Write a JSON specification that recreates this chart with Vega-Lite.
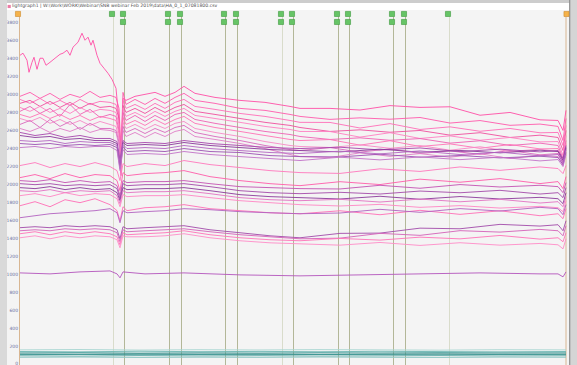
{
"$schema":"https://vega.github.io/schema/vega-lite/v6.json",
"width":577,"height":365,"padding":0,"autosize":{"type":"none"},
"background":"#f4f4f4",
"config":{"view":{"fill":"#f4f4f4","stroke":null}},
"datasets":{
"C":[{"x":0.5,"k":"o"},{"x":94.5,"k":"l"},{"x":105.5,"k":"d"},{"x":150.5,"k":"d"},{"x":162.5,"k":"d"},{"x":206.5,"k":"d"},{"x":218.5,"k":"d"},{"x":263.5,"k":"l"},{"x":274.5,"k":"d"},{"x":319.5,"k":"d"},{"x":330.5,"k":"d"},{"x":374.5,"k":"d"},{"x":386.5,"k":"d"},{"x":430.5,"k":"l"},{"x":547,"k":"o"}],
"M":[{"x":94.5,"r":1},{"x":105.5,"r":1},{"x":150.5,"r":1},{"x":162.5,"r":1},{"x":206.5,"r":1},{"x":218.5,"r":1},{"x":263.5,"r":1},{"x":274.5,"r":1},{"x":319.5,"r":1},{"x":330.5,"r":1},{"x":374.5,"r":1},{"x":386.5,"r":1},{"x":430.5,"r":1},
{"x":105.5,"r":2},{"x":150.5,"r":2},{"x":162.5,"r":2},{"x":206.5,"r":2},{"x":218.5,"r":2},{"x":263.5,"r":2},{"x":274.5,"r":2},{"x":319.5,"r":2},{"x":330.5,"r":2},{"x":374.5,"r":2},{"x":386.5,"r":2},
{"x":-1,"r":0},{"x":547.5,"r":0}],
"L":[
{"s":"a0","x":1,"y":3440},{"s":"a0","x":4,"y":3463},{"s":"a0","x":8,"y":3385},{"s":"a0","x":10,"y":3251},{"s":"a0","x":13,"y":3362},{"s":"a0","x":15,"y":3418},{"s":"a0","x":18,"y":3284},{"s":"a0","x":21,"y":3407},{"s":"a0","x":24,"y":3407},{"s":"a0","x":27,"y":3329},{"s":"a0","x":31,"y":3362},{"s":"a0","x":36,"y":3407},{"s":"a0","x":41,"y":3451},{"s":"a0","x":44,"y":3463},{"s":"a0","x":48,"y":3496},{"s":"a0","x":51,"y":3440},{"s":"a0","x":54,"y":3530},{"s":"a0","x":59,"y":3585},{"s":"a0","x":63,"y":3685},{"s":"a0","x":66,"y":3607},{"s":"a0","x":69,"y":3641},{"s":"a0","x":72,"y":3552},{"s":"a0","x":74,"y":3607},{"s":"a0","x":78,"y":3440},{"s":"a0","x":81,"y":3351},{"s":"a0","x":85,"y":3296},{"s":"a0","x":89,"y":3240},{"s":"a0","x":93,"y":3173},{"s":"a0","x":97,"y":3073},{"s":"a0","x":100,"y":2716},{"s":"a0","x":102,"y":2215},{"s":"a0","x":104,"y":2961},{"s":"a0","x":107,"y":2939},{"s":"a0","x":116,"y":2984},{"s":"a0","x":126,"y":3006},{"s":"a0","x":136,"y":3028},{"s":"a0","x":146,"y":2984},{"s":"a0","x":156,"y":3028},{"s":"a0","x":165,"y":3095},{"s":"a0","x":176,"y":3017},{"s":"a0","x":196,"y":2972},{"s":"a0","x":221,"y":2939},{"s":"a0","x":246,"y":2917},{"s":"a0","x":271,"y":2872},{"s":"a0","x":281,"y":2850},{"s":"a0","x":311,"y":2850},{"s":"a0","x":341,"y":2832},{"s":"a0","x":371,"y":2881},{"s":"a0","x":401,"y":2861},{"s":"a0","x":431,"y":2868},{"s":"a0","x":461,"y":2774},{"s":"a0","x":491,"y":2805},{"s":"a0","x":521,"y":2723},{"s":"a0","x":539,"y":2716},{"s":"a0","x":544,"y":2605},{"s":"a0","x":547,"y":2828},
{"s":"a1","x":1,"y":2984},{"s":"a1","x":11,"y":3028},{"s":"a1","x":21,"y":2961},{"s":"a1","x":31,"y":3017},{"s":"a1","x":41,"y":2950},{"s":"a1","x":51,"y":3006},{"s":"a1","x":61,"y":2972},{"s":"a1","x":71,"y":3039},{"s":"a1","x":81,"y":2972},{"s":"a1","x":91,"y":2995},{"s":"a1","x":97,"y":2972},{"s":"a1","x":100,"y":2850},{"s":"a1","x":102,"y":2382},{"s":"a1","x":104,"y":3028},{"s":"a1","x":107,"y":2894},{"s":"a1","x":116,"y":2950},{"s":"a1","x":126,"y":2894},{"s":"a1","x":136,"y":2961},{"s":"a1","x":146,"y":2906},{"s":"a1","x":156,"y":2972},{"s":"a1","x":165,"y":3017},{"s":"a1","x":176,"y":2939},{"s":"a1","x":196,"y":2906},{"s":"a1","x":221,"y":2850},{"s":"a1","x":246,"y":2828},{"s":"a1","x":271,"y":2783},{"s":"a1","x":281,"y":2761},{"s":"a1","x":311,"y":2728},{"s":"a1","x":341,"y":2745},{"s":"a1","x":371,"y":2730},{"s":"a1","x":401,"y":2749},{"s":"a1","x":431,"y":2687},{"s":"a1","x":461,"y":2715},{"s":"a1","x":491,"y":2662},{"s":"a1","x":521,"y":2676},{"s":"a1","x":539,"y":2650},{"s":"a1","x":544,"y":2493},{"s":"a1","x":547,"y":2738},
{"s":"a2","x":1,"y":2950},{"s":"a2","x":11,"y":2906},{"s":"a2","x":21,"y":2961},{"s":"a2","x":31,"y":2894},{"s":"a2","x":41,"y":2939},{"s":"a2","x":51,"y":2883},{"s":"a2","x":61,"y":2950},{"s":"a2","x":71,"y":2894},{"s":"a2","x":81,"y":2928},{"s":"a2","x":91,"y":2917},{"s":"a2","x":97,"y":2894},{"s":"a2","x":100,"y":2772},{"s":"a2","x":102,"y":2271},{"s":"a2","x":104,"y":2939},{"s":"a2","x":107,"y":2850},{"s":"a2","x":116,"y":2894},{"s":"a2","x":126,"y":2839},{"s":"a2","x":136,"y":2906},{"s":"a2","x":146,"y":2850},{"s":"a2","x":156,"y":2917},{"s":"a2","x":165,"y":2950},{"s":"a2","x":176,"y":2872},{"s":"a2","x":196,"y":2839},{"s":"a2","x":221,"y":2794},{"s":"a2","x":246,"y":2761},{"s":"a2","x":271,"y":2716},{"s":"a2","x":281,"y":2695},{"s":"a2","x":311,"y":2694},{"s":"a2","x":341,"y":2632},{"s":"a2","x":371,"y":2681},{"s":"a2","x":401,"y":2616},{"s":"a2","x":431,"y":2645},{"s":"a2","x":461,"y":2596},{"s":"a2","x":491,"y":2627},{"s":"a2","x":521,"y":2579},{"s":"a2","x":539,"y":2583},{"s":"a2","x":544,"y":2438},{"s":"a2","x":547,"y":2661},
{"s":"a3","x":1,"y":2906},{"s":"a3","x":11,"y":2939},{"s":"a3","x":21,"y":2872},{"s":"a3","x":31,"y":2928},{"s":"a3","x":41,"y":2861},{"s":"a3","x":51,"y":2917},{"s":"a3","x":61,"y":2850},{"s":"a3","x":71,"y":2906},{"s":"a3","x":81,"y":2861},{"s":"a3","x":91,"y":2872},{"s":"a3","x":97,"y":2850},{"s":"a3","x":100,"y":2738},{"s":"a3","x":102,"y":2182},{"s":"a3","x":104,"y":2883},{"s":"a3","x":107,"y":2805},{"s":"a3","x":116,"y":2850},{"s":"a3","x":126,"y":2794},{"s":"a3","x":136,"y":2861},{"s":"a3","x":146,"y":2805},{"s":"a3","x":156,"y":2861},{"s":"a3","x":165,"y":2894},{"s":"a3","x":176,"y":2817},{"s":"a3","x":196,"y":2783},{"s":"a3","x":221,"y":2738},{"s":"a3","x":246,"y":2695},{"s":"a3","x":271,"y":2661},{"s":"a3","x":281,"y":2638},{"s":"a3","x":311,"y":2594},{"s":"a3","x":341,"y":2612},{"s":"a3","x":371,"y":2585},{"s":"a3","x":401,"y":2605},{"s":"a3","x":431,"y":2553},{"s":"a3","x":461,"y":2580},{"s":"a3","x":491,"y":2527},{"s":"a3","x":521,"y":2553},{"s":"a3","x":539,"y":2527},{"s":"a3","x":544,"y":2382},{"s":"a3","x":547,"y":2605},
{"s":"a4","x":1,"y":2861},{"s":"a4","x":11,"y":2817},{"s":"a4","x":21,"y":2872},{"s":"a4","x":31,"y":2805},{"s":"a4","x":41,"y":2850},{"s":"a4","x":51,"y":2794},{"s":"a4","x":61,"y":2861},{"s":"a4","x":71,"y":2805},{"s":"a4","x":81,"y":2839},{"s":"a4","x":91,"y":2828},{"s":"a4","x":97,"y":2805},{"s":"a4","x":100,"y":2672},{"s":"a4","x":102,"y":2137},{"s":"a4","x":104,"y":2850},{"s":"a4","x":107,"y":2761},{"s":"a4","x":116,"y":2805},{"s":"a4","x":126,"y":2750},{"s":"a4","x":136,"y":2817},{"s":"a4","x":146,"y":2761},{"s":"a4","x":156,"y":2817},{"s":"a4","x":165,"y":2850},{"s":"a4","x":176,"y":2772},{"s":"a4","x":196,"y":2738},{"s":"a4","x":221,"y":2695},{"s":"a4","x":246,"y":2650},{"s":"a4","x":271,"y":2616},{"s":"a4","x":281,"y":2594},{"s":"a4","x":311,"y":2593},{"s":"a4","x":341,"y":2531},{"s":"a4","x":371,"y":2580},{"s":"a4","x":401,"y":2516},{"s":"a4","x":431,"y":2545},{"s":"a4","x":461,"y":2496},{"s":"a4","x":491,"y":2527},{"s":"a4","x":521,"y":2478},{"s":"a4","x":539,"y":2482},{"s":"a4","x":544,"y":2326},{"s":"a4","x":547,"y":2549},
{"s":"a5","x":1,"y":2817},{"s":"a5","x":11,"y":2872},{"s":"a5","x":21,"y":2794},{"s":"a5","x":31,"y":2850},{"s":"a5","x":41,"y":2761},{"s":"a5","x":51,"y":2894},{"s":"a5","x":61,"y":2783},{"s":"a5","x":71,"y":2839},{"s":"a5","x":81,"y":2750},{"s":"a5","x":91,"y":2783},{"s":"a5","x":97,"y":2761},{"s":"a5","x":100,"y":2605},{"s":"a5","x":102,"y":2103},{"s":"a5","x":104,"y":2805},{"s":"a5","x":107,"y":2716},{"s":"a5","x":116,"y":2772},{"s":"a5","x":126,"y":2705},{"s":"a5","x":136,"y":2772},{"s":"a5","x":146,"y":2716},{"s":"a5","x":156,"y":2783},{"s":"a5","x":165,"y":2805},{"s":"a5","x":176,"y":2727},{"s":"a5","x":196,"y":2684},{"s":"a5","x":221,"y":2638},{"s":"a5","x":246,"y":2594},{"s":"a5","x":271,"y":2560},{"s":"a5","x":281,"y":2538},{"s":"a5","x":311,"y":2505},{"s":"a5","x":341,"y":2523},{"s":"a5","x":371,"y":2496},{"s":"a5","x":401,"y":2515},{"s":"a5","x":431,"y":2464},{"s":"a5","x":461,"y":2491},{"s":"a5","x":491,"y":2438},{"s":"a5","x":521,"y":2464},{"s":"a5","x":539,"y":2438},{"s":"a5","x":544,"y":2293},{"s":"a5","x":547,"y":2493},
{"s":"a6","x":1,"y":2783},{"s":"a6","x":11,"y":2750},{"s":"a6","x":21,"y":2794},{"s":"a6","x":31,"y":2738},{"s":"a6","x":41,"y":2783},{"s":"a6","x":51,"y":2727},{"s":"a6","x":61,"y":2772},{"s":"a6","x":71,"y":2716},{"s":"a6","x":81,"y":2761},{"s":"a6","x":91,"y":2738},{"s":"a6","x":97,"y":2716},{"s":"a6","x":100,"y":2571},{"s":"a6","x":102,"y":2215},{"s":"a6","x":104,"y":2750},{"s":"a6","x":107,"y":2672},{"s":"a6","x":116,"y":2716},{"s":"a6","x":126,"y":2661},{"s":"a6","x":136,"y":2727},{"s":"a6","x":146,"y":2672},{"s":"a6","x":156,"y":2727},{"s":"a6","x":165,"y":2761},{"s":"a6","x":176,"y":2684},{"s":"a6","x":196,"y":2638},{"s":"a6","x":221,"y":2594},{"s":"a6","x":246,"y":2549},{"s":"a6","x":271,"y":2505},{"s":"a6","x":281,"y":2493},{"s":"a6","x":311,"y":2504},{"s":"a6","x":341,"y":2442},{"s":"a6","x":371,"y":2491},{"s":"a6","x":401,"y":2427},{"s":"a6","x":431,"y":2456},{"s":"a6","x":461,"y":2407},{"s":"a6","x":491,"y":2449},{"s":"a6","x":521,"y":2400},{"s":"a6","x":539,"y":2404},{"s":"a6","x":544,"y":2271},{"s":"a6","x":547,"y":2460},
{"s":"a7","x":1,"y":2738},{"s":"a7","x":11,"y":2705},{"s":"a7","x":21,"y":2750},{"s":"a7","x":31,"y":2684},{"s":"a7","x":41,"y":2727},{"s":"a7","x":51,"y":2672},{"s":"a7","x":61,"y":2716},{"s":"a7","x":71,"y":2661},{"s":"a7","x":81,"y":2705},{"s":"a7","x":91,"y":2672},{"s":"a7","x":97,"y":2650},{"s":"a7","x":100,"y":2516},{"s":"a7","x":102,"y":2159},{"s":"a7","x":104,"y":2695},{"s":"a7","x":107,"y":2627},{"s":"a7","x":116,"y":2672},{"s":"a7","x":126,"y":2616},{"s":"a7","x":136,"y":2672},{"s":"a7","x":146,"y":2627},{"s":"a7","x":156,"y":2684},{"s":"a7","x":165,"y":2705},{"s":"a7","x":176,"y":2627},{"s":"a7","x":196,"y":2583},{"s":"a7","x":221,"y":2538},{"s":"a7","x":246,"y":2482},{"s":"a7","x":271,"y":2438},{"s":"a7","x":281,"y":2427},{"s":"a7","x":311,"y":2416},{"s":"a7","x":341,"y":2445},{"s":"a7","x":371,"y":2407},{"s":"a7","x":401,"y":2437},{"s":"a7","x":431,"y":2386},{"s":"a7","x":461,"y":2424},{"s":"a7","x":491,"y":2371},{"s":"a7","x":521,"y":2397},{"s":"a7","x":539,"y":2371},{"s":"a7","x":544,"y":2248},{"s":"a7","x":547,"y":2427},
{"s":"a8","x":1,"y":2672},{"s":"a8","x":11,"y":2716},{"s":"a8","x":21,"y":2638},{"s":"a8","x":31,"y":2727},{"s":"a8","x":41,"y":2650},{"s":"a8","x":51,"y":2705},{"s":"a8","x":61,"y":2616},{"s":"a8","x":71,"y":2684},{"s":"a8","x":81,"y":2627},{"s":"a8","x":91,"y":2627},{"s":"a8","x":97,"y":2605},{"s":"a8","x":100,"y":2471},{"s":"a8","x":102,"y":2248},{"s":"a8","x":104,"y":2650},{"s":"a8","x":107,"y":2583},{"s":"a8","x":116,"y":2627},{"s":"a8","x":126,"y":2571},{"s":"a8","x":136,"y":2627},{"s":"a8","x":146,"y":2583},{"s":"a8","x":156,"y":2638},{"s":"a8","x":165,"y":2661},{"s":"a8","x":176,"y":2583},{"s":"a8","x":196,"y":2538},{"s":"a8","x":221,"y":2493},{"s":"a8","x":246,"y":2438},{"s":"a8","x":271,"y":2393},{"s":"a8","x":281,"y":2382},{"s":"a8","x":311,"y":2415},{"s":"a8","x":341,"y":2364},{"s":"a8","x":371,"y":2402},{"s":"a8","x":401,"y":2349},{"s":"a8","x":431,"y":2378},{"s":"a8","x":461,"y":2340},{"s":"a8","x":491,"y":2382},{"s":"a8","x":521,"y":2334},{"s":"a8","x":539,"y":2349},{"s":"a8","x":544,"y":2237},{"s":"a8","x":547,"y":2404},
{"s":"a9","x":1,"y":2627},{"s":"a9","x":11,"y":2594},{"s":"a9","x":21,"y":2638},{"s":"a9","x":31,"y":2583},{"s":"a9","x":41,"y":2627},{"s":"a9","x":51,"y":2594},{"s":"a9","x":61,"y":2638},{"s":"a9","x":71,"y":2583},{"s":"a9","x":81,"y":2616},{"s":"a9","x":91,"y":2605},{"s":"a9","x":97,"y":2583},{"s":"a9","x":100,"y":2438},{"s":"a9","x":102,"y":2293},{"s":"a9","x":104,"y":2605},{"s":"a9","x":107,"y":2538},{"s":"a9","x":116,"y":2583},{"s":"a9","x":126,"y":2527},{"s":"a9","x":136,"y":2583},{"s":"a9","x":146,"y":2538},{"s":"a9","x":156,"y":2594},{"s":"a9","x":165,"y":2616},{"s":"a9","x":176,"y":2538},{"s":"a9","x":196,"y":2505},{"s":"a9","x":221,"y":2460},{"s":"a9","x":246,"y":2404},{"s":"a9","x":271,"y":2338},{"s":"a9","x":281,"y":2315},{"s":"a9","x":311,"y":2304},{"s":"a9","x":341,"y":2356},{"s":"a9","x":371,"y":2318},{"s":"a9","x":401,"y":2348},{"s":"a9","x":431,"y":2308},{"s":"a9","x":461,"y":2346},{"s":"a9","x":491,"y":2293},{"s":"a9","x":521,"y":2330},{"s":"a9","x":539,"y":2315},{"s":"a9","x":544,"y":2215},{"s":"a9","x":547,"y":2382},
{"s":"b1","x":1,"y":2583},{"s":"b1","x":16,"y":2549},{"s":"b1","x":31,"y":2571},{"s":"b1","x":46,"y":2527},{"s":"b1","x":61,"y":2549},{"s":"b1","x":76,"y":2516},{"s":"b1","x":91,"y":2516},{"s":"b1","x":98,"y":2482},{"s":"b1","x":101,"y":2271},{"s":"b1","x":104,"y":2493},{"s":"b1","x":108,"y":2460},{"s":"b1","x":126,"y":2471},{"s":"b1","x":146,"y":2460},{"s":"b1","x":165,"y":2493},{"s":"b1","x":191,"y":2460},{"s":"b1","x":221,"y":2438},{"s":"b1","x":251,"y":2415},{"s":"b1","x":281,"y":2404},{"s":"b1","x":321,"y":2419},{"s":"b1","x":361,"y":2389},{"s":"b1","x":401,"y":2411},{"s":"b1","x":441,"y":2370},{"s":"b1","x":481,"y":2397},{"s":"b1","x":521,"y":2367},{"s":"b1","x":539,"y":2382},{"s":"b1","x":544,"y":2293},{"s":"b1","x":547,"y":2438},
{"s":"b2","x":1,"y":2549},{"s":"b2","x":16,"y":2527},{"s":"b2","x":31,"y":2538},{"s":"b2","x":46,"y":2505},{"s":"b2","x":61,"y":2516},{"s":"b2","x":76,"y":2493},{"s":"b2","x":91,"y":2493},{"s":"b2","x":98,"y":2460},{"s":"b2","x":101,"y":2215},{"s":"b2","x":104,"y":2471},{"s":"b2","x":108,"y":2438},{"s":"b2","x":126,"y":2449},{"s":"b2","x":146,"y":2438},{"s":"b2","x":165,"y":2471},{"s":"b2","x":191,"y":2438},{"s":"b2","x":221,"y":2415},{"s":"b2","x":251,"y":2393},{"s":"b2","x":281,"y":2382},{"s":"b2","x":321,"y":2367},{"s":"b2","x":361,"y":2397},{"s":"b2","x":401,"y":2364},{"s":"b2","x":441,"y":2383},{"s":"b2","x":481,"y":2356},{"s":"b2","x":521,"y":2386},{"s":"b2","x":539,"y":2371},{"s":"b2","x":544,"y":2271},{"s":"b2","x":547,"y":2415},
{"s":"b3","x":1,"y":2493},{"s":"b3","x":16,"y":2482},{"s":"b3","x":31,"y":2493},{"s":"b3","x":46,"y":2460},{"s":"b3","x":61,"y":2482},{"s":"b3","x":76,"y":2471},{"s":"b3","x":91,"y":2471},{"s":"b3","x":98,"y":2438},{"s":"b3","x":101,"y":2248},{"s":"b3","x":104,"y":2449},{"s":"b3","x":108,"y":2404},{"s":"b3","x":126,"y":2415},{"s":"b3","x":146,"y":2404},{"s":"b3","x":165,"y":2438},{"s":"b3","x":191,"y":2404},{"s":"b3","x":221,"y":2382},{"s":"b3","x":251,"y":2360},{"s":"b3","x":281,"y":2349},{"s":"b3","x":321,"y":2375},{"s":"b3","x":361,"y":2345},{"s":"b3","x":401,"y":2378},{"s":"b3","x":441,"y":2337},{"s":"b3","x":481,"y":2364},{"s":"b3","x":521,"y":2323},{"s":"b3","x":539,"y":2338},{"s":"b3","x":544,"y":2248},{"s":"b3","x":547,"y":2393},
{"s":"b4","x":1,"y":2460},{"s":"b4","x":16,"y":2449},{"s":"b4","x":31,"y":2460},{"s":"b4","x":46,"y":2438},{"s":"b4","x":61,"y":2449},{"s":"b4","x":76,"y":2438},{"s":"b4","x":91,"y":2449},{"s":"b4","x":98,"y":2415},{"s":"b4","x":101,"y":2182},{"s":"b4","x":104,"y":2427},{"s":"b4","x":108,"y":2371},{"s":"b4","x":126,"y":2382},{"s":"b4","x":146,"y":2371},{"s":"b4","x":165,"y":2404},{"s":"b4","x":191,"y":2371},{"s":"b4","x":221,"y":2360},{"s":"b4","x":251,"y":2326},{"s":"b4","x":281,"y":2315},{"s":"b4","x":321,"y":2311},{"s":"b4","x":361,"y":2341},{"s":"b4","x":401,"y":2308},{"s":"b4","x":441,"y":2327},{"s":"b4","x":481,"y":2300},{"s":"b4","x":521,"y":2319},{"s":"b4","x":539,"y":2304},{"s":"b4","x":544,"y":2226},{"s":"b4","x":547,"y":2360},
{"s":"b5","x":1,"y":2415},{"s":"b5","x":16,"y":2427},{"s":"b5","x":31,"y":2404},{"s":"b5","x":46,"y":2427},{"s":"b5","x":61,"y":2415},{"s":"b5","x":76,"y":2427},{"s":"b5","x":91,"y":2427},{"s":"b5","x":98,"y":2382},{"s":"b5","x":101,"y":2159},{"s":"b5","x":104,"y":2393},{"s":"b5","x":108,"y":2338},{"s":"b5","x":126,"y":2349},{"s":"b5","x":146,"y":2338},{"s":"b5","x":165,"y":2371},{"s":"b5","x":191,"y":2338},{"s":"b5","x":221,"y":2315},{"s":"b5","x":251,"y":2293},{"s":"b5","x":281,"y":2271},{"s":"b5","x":321,"y":2308},{"s":"b5","x":361,"y":2278},{"s":"b5","x":401,"y":2311},{"s":"b5","x":441,"y":2281},{"s":"b5","x":481,"y":2308},{"s":"b5","x":521,"y":2267},{"s":"b5","x":539,"y":2282},{"s":"b5","x":544,"y":2204},{"s":"b5","x":547,"y":2338},
{"s":"c","x":1,"y":2215},{"s":"c","x":16,"y":2248},{"s":"c","x":31,"y":2193},{"s":"c","x":46,"y":2237},{"s":"c","x":61,"y":2204},{"s":"c","x":76,"y":2248},{"s":"c","x":91,"y":2204},{"s":"c","x":98,"y":2159},{"s":"c","x":101,"y":2048},{"s":"c","x":104,"y":2237},{"s":"c","x":108,"y":2204},{"s":"c","x":126,"y":2237},{"s":"c","x":146,"y":2215},{"s":"c","x":165,"y":2271},{"s":"c","x":191,"y":2226},{"s":"c","x":221,"y":2193},{"s":"c","x":251,"y":2159},{"s":"c","x":281,"y":2137},{"s":"c","x":321,"y":2128},{"s":"c","x":361,"y":2179},{"s":"c","x":401,"y":2150},{"s":"c","x":441,"y":2200},{"s":"c","x":481,"y":2162},{"s":"c","x":521,"y":2200},{"s":"c","x":539,"y":2182},{"s":"c","x":544,"y":2126},{"s":"c","x":547,"y":2215},
{"s":"d1","x":1,"y":2081},{"s":"d1","x":16,"y":2115},{"s":"d1","x":31,"y":2070},{"s":"d1","x":46,"y":2126},{"s":"d1","x":61,"y":2081},{"s":"d1","x":76,"y":2115},{"s":"d1","x":91,"y":2103},{"s":"d1","x":98,"y":2048},{"s":"d1","x":101,"y":1936},{"s":"d1","x":104,"y":2137},{"s":"d1","x":108,"y":2103},{"s":"d1","x":126,"y":2126},{"s":"d1","x":146,"y":2137},{"s":"d1","x":165,"y":2159},{"s":"d1","x":191,"y":2092},{"s":"d1","x":221,"y":2048},{"s":"d1","x":251,"y":2014},{"s":"d1","x":281,"y":1992},{"s":"d1","x":321,"y":2036},{"s":"d1","x":361,"y":2004},{"s":"d1","x":401,"y":2064},{"s":"d1","x":441,"y":2030},{"s":"d1","x":481,"y":2070},{"s":"d1","x":521,"y":2015},{"s":"d1","x":539,"y":2037},{"s":"d1","x":544,"y":1959},{"s":"d1","x":547,"y":2092},
{"s":"d2","x":1,"y":2048},{"s":"d2","x":16,"y":2037},{"s":"d2","x":31,"y":2059},{"s":"d2","x":46,"y":2026},{"s":"d2","x":61,"y":2048},{"s":"d2","x":76,"y":2026},{"s":"d2","x":91,"y":2037},{"s":"d2","x":98,"y":1992},{"s":"d2","x":101,"y":1881},{"s":"d2","x":104,"y":2048},{"s":"d2","x":108,"y":2026},{"s":"d2","x":126,"y":2037},{"s":"d2","x":146,"y":2037},{"s":"d2","x":165,"y":2048},{"s":"d2","x":191,"y":2014},{"s":"d2","x":221,"y":1981},{"s":"d2","x":251,"y":1970},{"s":"d2","x":281,"y":1959},{"s":"d2","x":321,"y":1955},{"s":"d2","x":361,"y":1996},{"s":"d2","x":401,"y":1963},{"s":"d2","x":441,"y":2004},{"s":"d2","x":481,"y":1977},{"s":"d2","x":521,"y":1996},{"s":"d2","x":539,"y":1981},{"s":"d2","x":544,"y":1914},{"s":"d2","x":547,"y":2026},
{"s":"d3","x":1,"y":2014},{"s":"d3","x":16,"y":2003},{"s":"d3","x":31,"y":2014},{"s":"d3","x":46,"y":1992},{"s":"d3","x":61,"y":2003},{"s":"d3","x":76,"y":1992},{"s":"d3","x":91,"y":2003},{"s":"d3","x":98,"y":1959},{"s":"d3","x":101,"y":1847},{"s":"d3","x":104,"y":2014},{"s":"d3","x":108,"y":1992},{"s":"d3","x":126,"y":2003},{"s":"d3","x":146,"y":2003},{"s":"d3","x":165,"y":2014},{"s":"d3","x":191,"y":1981},{"s":"d3","x":221,"y":1936},{"s":"d3","x":251,"y":1914},{"s":"d3","x":281,"y":1903},{"s":"d3","x":321,"y":1918},{"s":"d3","x":361,"y":1899},{"s":"d3","x":401,"y":1932},{"s":"d3","x":441,"y":1913},{"s":"d3","x":481,"y":1940},{"s":"d3","x":521,"y":1899},{"s":"d3","x":539,"y":1914},{"s":"d3","x":544,"y":1859},{"s":"d3","x":547,"y":1970},
{"s":"d4","x":1,"y":1970},{"s":"d4","x":16,"y":1959},{"s":"d4","x":31,"y":1981},{"s":"d4","x":46,"y":1948},{"s":"d4","x":61,"y":1970},{"s":"d4","x":76,"y":1948},{"s":"d4","x":91,"y":1959},{"s":"d4","x":98,"y":1914},{"s":"d4","x":101,"y":1825},{"s":"d4","x":104,"y":1970},{"s":"d4","x":108,"y":1948},{"s":"d4","x":126,"y":1959},{"s":"d4","x":146,"y":1959},{"s":"d4","x":165,"y":1970},{"s":"d4","x":191,"y":1936},{"s":"d4","x":221,"y":1892},{"s":"d4","x":251,"y":1870},{"s":"d4","x":281,"y":1859},{"s":"d4","x":321,"y":1844},{"s":"d4","x":361,"y":1874},{"s":"d4","x":401,"y":1841},{"s":"d4","x":441,"y":1871},{"s":"d4","x":481,"y":1844},{"s":"d4","x":521,"y":1862},{"s":"d4","x":539,"y":1847},{"s":"d4","x":544,"y":1792},{"s":"d4","x":547,"y":1914},
{"s":"d5","x":1,"y":1936},{"s":"d5","x":16,"y":1925},{"s":"d5","x":31,"y":1948},{"s":"d5","x":46,"y":1914},{"s":"d5","x":61,"y":1936},{"s":"d5","x":76,"y":1925},{"s":"d5","x":91,"y":1936},{"s":"d5","x":98,"y":1881},{"s":"d5","x":101,"y":1792},{"s":"d5","x":104,"y":1936},{"s":"d5","x":108,"y":1914},{"s":"d5","x":126,"y":1925},{"s":"d5","x":146,"y":1925},{"s":"d5","x":165,"y":1936},{"s":"d5","x":191,"y":1903},{"s":"d5","x":221,"y":1859},{"s":"d5","x":251,"y":1836},{"s":"d5","x":281,"y":1825},{"s":"d5","x":321,"y":1840},{"s":"d5","x":361,"y":1810},{"s":"d5","x":401,"y":1843},{"s":"d5","x":441,"y":1813},{"s":"d5","x":481,"y":1840},{"s":"d5","x":521,"y":1799},{"s":"d5","x":539,"y":1814},{"s":"d5","x":544,"y":1758},{"s":"d5","x":547,"y":1870},
{"s":"d6","x":1,"y":1881},{"s":"d6","x":16,"y":1903},{"s":"d6","x":31,"y":1870},{"s":"d6","x":46,"y":1914},{"s":"d6","x":61,"y":1881},{"s":"d6","x":76,"y":1903},{"s":"d6","x":91,"y":1892},{"s":"d6","x":98,"y":1847},{"s":"d6","x":101,"y":1758},{"s":"d6","x":104,"y":1892},{"s":"d6","x":108,"y":1870},{"s":"d6","x":126,"y":1881},{"s":"d6","x":146,"y":1881},{"s":"d6","x":165,"y":1892},{"s":"d6","x":191,"y":1859},{"s":"d6","x":221,"y":1825},{"s":"d6","x":251,"y":1803},{"s":"d6","x":281,"y":1781},{"s":"d6","x":321,"y":1766},{"s":"d6","x":361,"y":1784},{"s":"d6","x":401,"y":1751},{"s":"d6","x":441,"y":1770},{"s":"d6","x":481,"y":1743},{"s":"d6","x":521,"y":1762},{"s":"d6","x":539,"y":1747},{"s":"d6","x":544,"y":1703},{"s":"d6","x":547,"y":1825},
{"s":"e1","x":1,"y":1769},{"s":"e1","x":16,"y":1814},{"s":"e1","x":31,"y":1758},{"s":"e1","x":46,"y":1836},{"s":"e1","x":61,"y":1803},{"s":"e1","x":76,"y":1847},{"s":"e1","x":91,"y":1781},{"s":"e1","x":98,"y":1714},{"s":"e1","x":101,"y":1602},{"s":"e1","x":104,"y":1758},{"s":"e1","x":108,"y":1714},{"s":"e1","x":126,"y":1747},{"s":"e1","x":146,"y":1758},{"s":"e1","x":165,"y":1781},{"s":"e1","x":191,"y":1736},{"s":"e1","x":221,"y":1714},{"s":"e1","x":251,"y":1691},{"s":"e1","x":281,"y":1680},{"s":"e1","x":321,"y":1713},{"s":"e1","x":361,"y":1669},{"s":"e1","x":401,"y":1718},{"s":"e1","x":441,"y":1673},{"s":"e1","x":481,"y":1713},{"s":"e1","x":521,"y":1658},{"s":"e1","x":539,"y":1680},{"s":"e1","x":544,"y":1625},{"s":"e1","x":547,"y":1736},
{"s":"e2","x":1,"y":1636},{"s":"e2","x":16,"y":1658},{"s":"e2","x":31,"y":1680},{"s":"e2","x":46,"y":1691},{"s":"e2","x":61,"y":1703},{"s":"e2","x":76,"y":1714},{"s":"e2","x":91,"y":1736},{"s":"e2","x":98,"y":1691},{"s":"e2","x":101,"y":1580},{"s":"e2","x":104,"y":1714},{"s":"e2","x":108,"y":1691},{"s":"e2","x":126,"y":1703},{"s":"e2","x":146,"y":1714},{"s":"e2","x":165,"y":1736},{"s":"e2","x":191,"y":1725},{"s":"e2","x":221,"y":1703},{"s":"e2","x":251,"y":1691},{"s":"e2","x":281,"y":1680},{"s":"e2","x":321,"y":1688},{"s":"e2","x":361,"y":1729},{"s":"e2","x":401,"y":1696},{"s":"e2","x":441,"y":1737},{"s":"e2","x":481,"y":1710},{"s":"e2","x":521,"y":1751},{"s":"e2","x":539,"y":1736},{"s":"e2","x":544,"y":1669},{"s":"e2","x":547,"y":1781},
{"s":"f1","x":1,"y":1525},{"s":"f1","x":16,"y":1536},{"s":"f1","x":31,"y":1525},{"s":"f1","x":46,"y":1547},{"s":"f1","x":61,"y":1536},{"s":"f1","x":76,"y":1547},{"s":"f1","x":91,"y":1536},{"s":"f1","x":98,"y":1502},{"s":"f1","x":101,"y":1402},{"s":"f1","x":104,"y":1536},{"s":"f1","x":108,"y":1513},{"s":"f1","x":126,"y":1525},{"s":"f1","x":146,"y":1536},{"s":"f1","x":165,"y":1547},{"s":"f1","x":191,"y":1502},{"s":"f1","x":221,"y":1469},{"s":"f1","x":251,"y":1435},{"s":"f1","x":281,"y":1413},{"s":"f1","x":321,"y":1462},{"s":"f1","x":361,"y":1465},{"s":"f1","x":401,"y":1520},{"s":"f1","x":441,"y":1513},{"s":"f1","x":481,"y":1562},{"s":"f1","x":521,"y":1543},{"s":"f1","x":539,"y":1558},{"s":"f1","x":544,"y":1491},{"s":"f1","x":547,"y":1602},
{"s":"f2","x":1,"y":1491},{"s":"f2","x":16,"y":1502},{"s":"f2","x":31,"y":1491},{"s":"f2","x":46,"y":1513},{"s":"f2","x":61,"y":1502},{"s":"f2","x":76,"y":1513},{"s":"f2","x":91,"y":1502},{"s":"f2","x":98,"y":1469},{"s":"f2","x":101,"y":1369},{"s":"f2","x":104,"y":1502},{"s":"f2","x":108,"y":1480},{"s":"f2","x":126,"y":1491},{"s":"f2","x":146,"y":1502},{"s":"f2","x":165,"y":1513},{"s":"f2","x":191,"y":1480},{"s":"f2","x":221,"y":1447},{"s":"f2","x":251,"y":1424},{"s":"f2","x":281,"y":1402},{"s":"f2","x":321,"y":1409},{"s":"f2","x":361,"y":1462},{"s":"f2","x":401,"y":1440},{"s":"f2","x":441,"y":1492},{"s":"f2","x":481,"y":1476},{"s":"f2","x":521,"y":1506},{"s":"f2","x":539,"y":1491},{"s":"f2","x":544,"y":1435},{"s":"f2","x":547,"y":1547},
{"s":"f3","x":1,"y":1458},{"s":"f3","x":16,"y":1480},{"s":"f3","x":31,"y":1447},{"s":"f3","x":46,"y":1480},{"s":"f3","x":61,"y":1458},{"s":"f3","x":76,"y":1480},{"s":"f3","x":91,"y":1458},{"s":"f3","x":98,"y":1424},{"s":"f3","x":101,"y":1335},{"s":"f3","x":104,"y":1469},{"s":"f3","x":108,"y":1447},{"s":"f3","x":126,"y":1458},{"s":"f3","x":146,"y":1469},{"s":"f3","x":165,"y":1491},{"s":"f3","x":191,"y":1447},{"s":"f3","x":221,"y":1413},{"s":"f3","x":251,"y":1391},{"s":"f3","x":281,"y":1380},{"s":"f3","x":321,"y":1406},{"s":"f3","x":361,"y":1387},{"s":"f3","x":401,"y":1420},{"s":"f3","x":441,"y":1401},{"s":"f3","x":481,"y":1439},{"s":"f3","x":521,"y":1398},{"s":"f3","x":539,"y":1413},{"s":"f3","x":544,"y":1369},{"s":"f3","x":547,"y":1469},
{"s":"f4","x":1,"y":1413},{"s":"f4","x":16,"y":1435},{"s":"f4","x":31,"y":1402},{"s":"f4","x":46,"y":1435},{"s":"f4","x":61,"y":1413},{"s":"f4","x":76,"y":1435},{"s":"f4","x":91,"y":1424},{"s":"f4","x":98,"y":1391},{"s":"f4","x":101,"y":1302},{"s":"f4","x":104,"y":1435},{"s":"f4","x":108,"y":1424},{"s":"f4","x":126,"y":1424},{"s":"f4","x":146,"y":1435},{"s":"f4","x":165,"y":1458},{"s":"f4","x":191,"y":1413},{"s":"f4","x":221,"y":1380},{"s":"f4","x":251,"y":1357},{"s":"f4","x":281,"y":1346},{"s":"f4","x":321,"y":1331},{"s":"f4","x":361,"y":1361},{"s":"f4","x":401,"y":1328},{"s":"f4","x":441,"y":1358},{"s":"f4","x":481,"y":1331},{"s":"f4","x":521,"y":1350},{"s":"f4","x":539,"y":1335},{"s":"f4","x":544,"y":1290},{"s":"f4","x":547,"y":1402},
{"s":"g","x":1,"y":1023},{"s":"g","x":31,"y":1012},{"s":"g","x":61,"y":1034},{"s":"g","x":91,"y":1045},{"s":"g","x":98,"y":1012},{"s":"g","x":101,"y":968},{"s":"g","x":104,"y":1034},{"s":"g","x":126,"y":1012},{"s":"g","x":165,"y":1023},{"s":"g","x":221,"y":1001},{"s":"g","x":281,"y":990},{"s":"g","x":341,"y":1001},{"s":"g","x":401,"y":1012},{"s":"g","x":461,"y":1023},{"s":"g","x":521,"y":1012},{"s":"g","x":539,"y":1012},{"s":"g","x":544,"y":979},{"s":"g","x":547,"y":1034},
{"s":"t1","x":1,"y":168},{"s":"t1","x":60,"y":172},{"s":"t1","x":120,"y":166},{"s":"t1","x":180,"y":170},{"s":"t1","x":240,"y":167},{"s":"t1","x":300,"y":171},{"s":"t1","x":360,"y":168},{"s":"t1","x":420,"y":165},{"s":"t1","x":480,"y":170},{"s":"t1","x":547,"y":168},
{"s":"t2","x":1,"y":150},{"s":"t2","x":60,"y":146},{"s":"t2","x":120,"y":153},{"s":"t2","x":180,"y":148},{"s":"t2","x":240,"y":151},{"s":"t2","x":300,"y":147},{"s":"t2","x":360,"y":152},{"s":"t2","x":420,"y":149},{"s":"t2","x":480,"y":146},{"s":"t2","x":547,"y":150},
{"s":"t3","x":1,"y":135},{"s":"t3","x":60,"y":138},{"s":"t3","x":120,"y":132},{"s":"t3","x":180,"y":136},{"s":"t3","x":240,"y":133},{"s":"t3","x":300,"y":137},{"s":"t3","x":360,"y":134},{"s":"t3","x":420,"y":138},{"s":"t3","x":480,"y":135},{"s":"t3","x":547,"y":136},
{"s":"t4","x":1,"y":122},{"s":"t4","x":60,"y":120},{"s":"t4","x":120,"y":124},{"s":"t4","x":180,"y":121},{"s":"t4","x":240,"y":123},{"s":"t4","x":300,"y":119},{"s":"t4","x":360,"y":122},{"s":"t4","x":420,"y":124},{"s":"t4","x":480,"y":121},{"s":"t4","x":547,"y":122},
{"s":"t5","x":1,"y":115},{"s":"t5","x":60,"y":118},{"s":"t5","x":120,"y":113},{"s":"t5","x":180,"y":116},{"s":"t5","x":240,"y":114},{"s":"t5","x":300,"y":117},{"s":"t5","x":360,"y":115},{"s":"t5","x":420,"y":113},{"s":"t5","x":480,"y":117},{"s":"t5","x":547,"y":115},
{"s":"t6","x":1,"y":102},{"s":"t6","x":60,"y":98},{"s":"t6","x":120,"y":104},{"s":"t6","x":180,"y":100},{"s":"t6","x":240,"y":103},{"s":"t6","x":300,"y":99},{"s":"t6","x":360,"y":101},{"s":"t6","x":420,"y":104},{"s":"t6","x":480,"y":100},{"s":"t6","x":547,"y":102},
{"s":"t7","x":1,"y":85},{"s":"t7","x":60,"y":88},{"s":"t7","x":120,"y":83},{"s":"t7","x":180,"y":86},{"s":"t7","x":240,"y":84},{"s":"t7","x":300,"y":88},{"s":"t7","x":360,"y":85},{"s":"t7","x":420,"y":83},{"s":"t7","x":480,"y":87},{"s":"t7","x":547,"y":85}
]},
"layer":[
{"data":{"name":"C"},"mark":{"type":"rule","strokeWidth":1},
 "encoding":{"x":{"field":"x","type":"quantitative","scale":{"domain":[-19,558],"nice":false,"zero":false},"axis":null},
  "y":{"datum":3870,"type":"quantitative","scale":{"domain":[0,4054],"nice":false,"zero":false},
   "axis":{"values":[0,200,400,600,800,1000,1200,1400,1600,1800,2000,2200,2400,2600,2800,3000,3200,3400,3600,3800],"format":"d","offset":-19,"ticks":false,"domain":false,"labelFontSize":4.5,"labelFont":"DejaVu Sans","labelColor":"#6870a0","labelPadding":1.5,"labelFlush":true,"labelOverlap":false,"labelBound":false,"gridColor":"#e1e1e1","gridWidth":1,"title":null}},
  "y2":{"datum":0},
  "stroke":{"field":"k","type":"nominal","scale":{"domain":["o","d","l"],"range":["#d8b692","#b3b798","#d9dccb"]},"legend":null}}},
{"data":{"name":"L"},"mark":{"type":"line","strokeWidth":1,"opacity":0.9},
 "encoding":{"x":{"field":"x","type":"quantitative","scale":{"domain":[-19,558],"nice":false,"zero":false},"axis":null},
  "y":{"field":"y","type":"quantitative","scale":{"domain":[0,4054],"nice":false,"zero":false},
   "axis":{"values":[0,200,400,600,800,1000,1200,1400,1600,1800,2000,2200,2400,2600,2800,3000,3200,3400,3600,3800],"format":"d","offset":-19,"ticks":false,"domain":false,"labelFontSize":4.5,"labelFont":"DejaVu Sans","labelColor":"#6870a0","labelPadding":1.5,"labelFlush":true,"labelOverlap":false,"labelBound":false,"gridColor":"#e1e1e1","gridWidth":1,"title":null}},
  "color":{"field":"s","type":"nominal","legend":null,"scale":{
   "domain":["a0","a1","a2","a3","a4","a5","a6","a7","a8","a9","b1","b2","b3","b4","b5","c","d1","d2","d3","d4","d5","d6","e1","e2","f1","f2","f3","f4","g","t1","t2","t3","t4","t5","t6","t7"],
   "range":["#ff4fa6","#ff5aac","#ff6eb8","#f0509e","#ff80c2","#ee62b4","#ff72b6","#f78ac6","#d868bc","#e07ec8","#a646ac","#8a3a9a","#b466c2","#9c52b2","#c272c8","#ff78bc","#ff5caa","#c452b2","#a44aaa","#8c3a9a","#e272c2","#ff86c4","#ff6eb6","#b262c0","#a24aaa","#d462b8","#ff72b8","#ff8cc8","#b454bc","#a8d6d2","#6cb6b2","#4ea29e","#2a8682","#3c9692","#5eaca8","#90c8c4"]}}}},
{"data":{"values":[{}]},"mark":{"type":"rect","fill":"#ffffff"},
 "encoding":{"y":{"datum":4021,"type":"quantitative","scale":{"domain":[0,4054],"nice":false,"zero":false},
   "axis":{"values":[0,200,400,600,800,1000,1200,1400,1600,1800,2000,2200,2400,2600,2800,3000,3200,3400,3600,3800],"format":"d","offset":-19,"ticks":false,"domain":false,"labelFontSize":4.5,"labelFont":"DejaVu Sans","labelColor":"#6870a0","labelPadding":1.5,"labelFlush":true,"labelOverlap":false,"labelBound":false,"gridColor":"#e1e1e1","gridWidth":1,"title":null}},"y2":{"datum":3943}}},
{"data":{"values":[{}]},"mark":{"type":"rect","fill":"#cdcdcd"},
 "encoding":{"y":{"datum":4054,"type":"quantitative","scale":{"domain":[0,4054],"nice":false,"zero":false},
   "axis":{"values":[0,200,400,600,800,1000,1200,1400,1600,1800,2000,2200,2400,2600,2800,3000,3200,3400,3600,3800],"format":"d","offset":-19,"ticks":false,"domain":false,"labelFontSize":4.5,"labelFont":"DejaVu Sans","labelColor":"#6870a0","labelPadding":1.5,"labelFlush":true,"labelOverlap":false,"labelBound":false,"gridColor":"#e1e1e1","gridWidth":1,"title":null}},"y2":{"datum":4021}}},
{"data":{"values":[{}]},"mark":{"type":"rect","fill":"#d9d9d9"},
 "encoding":{"x":{"datum":-19,"type":"quantitative","scale":{"domain":[-19,558],"nice":false,"zero":false},"axis":null},"x2":{"datum":-12}}},
{"data":{"values":[{}]},"mark":{"type":"rect","fill":"#d5d5d5"},
 "encoding":{"x":{"datum":551,"type":"quantitative","scale":{"domain":[-19,558],"nice":false,"zero":false},"axis":null},"x2":{"datum":558}}},
{"data":{"values":[{}]},"mark":{"type":"rule","stroke":"#8e8e8e","strokeWidth":1.2},
 "encoding":{"x":{"datum":550.7,"type":"quantitative","scale":{"domain":[-19,558],"nice":false,"zero":false},"axis":null}}},
{"data":{"values":[{}]},"mark":{"type":"text","align":"left","baseline":"middle","fontSize":4.6,"font":"DejaVu Sans","color":"#505050"},
 "encoding":{"x":{"datum":-7,"type":"quantitative","scale":{"domain":[-19,558],"nice":false,"zero":false},"axis":null},
  "y":{"datum":3982,"type":"quantitative","scale":{"domain":[0,4054],"nice":false,"zero":false},
   "axis":{"values":[0,200,400,600,800,1000,1200,1400,1600,1800,2000,2200,2400,2600,2800,3000,3200,3400,3600,3800],"format":"d","offset":-19,"ticks":false,"domain":false,"labelFontSize":4.5,"labelFont":"DejaVu Sans","labelColor":"#6870a0","labelPadding":1.5,"labelFlush":true,"labelOverlap":false,"labelBound":false,"gridColor":"#e1e1e1","gridWidth":1,"title":null}},
  "text":{"value":"lightgraph1 | W:\\Work\\WORK\\Webinar\\SNB webinar Feb 2019\\data\\HA_0_1_07081800.csv"}}},
{"data":{"values":[{}]},"mark":{"type":"point","shape":"square","filled":true,"size":10,"color":"#e2457f"},
 "encoding":{"x":{"datum":-9.8,"type":"quantitative","scale":{"domain":[-19,558],"nice":false,"zero":false},"axis":null},
  "y":{"datum":3982,"type":"quantitative","scale":{"domain":[0,4054],"nice":false,"zero":false},
   "axis":{"values":[0,200,400,600,800,1000,1200,1400,1600,1800,2000,2200,2400,2600,2800,3000,3200,3400,3600,3800],"format":"d","offset":-19,"ticks":false,"domain":false,"labelFontSize":4.5,"labelFont":"DejaVu Sans","labelColor":"#6870a0","labelPadding":1.5,"labelFlush":true,"labelOverlap":false,"labelBound":false,"gridColor":"#e1e1e1","gridWidth":1,"title":null}}}},
{"data":{"name":"M"},"transform":[{"filter":"datum.r == 1"}],
 "mark":{"type":"point","shape":"square","filled":true,"size":26,"fill":"#66c466","stroke":"#3c983c","strokeWidth":0.6,"opacity":1,"xOffset":-1.5},
 "encoding":{"x":{"field":"x","type":"quantitative","scale":{"domain":[-19,558],"nice":false,"zero":false},"axis":null},
  "y":{"datum":3899,"type":"quantitative","scale":{"domain":[0,4054],"nice":false,"zero":false},
   "axis":{"values":[0,200,400,600,800,1000,1200,1400,1600,1800,2000,2200,2400,2600,2800,3000,3200,3400,3600,3800],"format":"d","offset":-19,"ticks":false,"domain":false,"labelFontSize":4.5,"labelFont":"DejaVu Sans","labelColor":"#6870a0","labelPadding":1.5,"labelFlush":true,"labelOverlap":false,"labelBound":false,"gridColor":"#e1e1e1","gridWidth":1,"title":null}}}},
{"data":{"name":"M"},"transform":[{"filter":"datum.r == 2"}],
 "mark":{"type":"point","shape":"square","filled":true,"size":26,"fill":"#66c466","stroke":"#3c983c","strokeWidth":0.6,"opacity":1,"xOffset":-1.5},
 "encoding":{"x":{"field":"x","type":"quantitative","scale":{"domain":[-19,558],"nice":false,"zero":false},"axis":null},
  "y":{"datum":3810,"type":"quantitative","scale":{"domain":[0,4054],"nice":false,"zero":false},
   "axis":{"values":[0,200,400,600,800,1000,1200,1400,1600,1800,2000,2200,2400,2600,2800,3000,3200,3400,3600,3800],"format":"d","offset":-19,"ticks":false,"domain":false,"labelFontSize":4.5,"labelFont":"DejaVu Sans","labelColor":"#6870a0","labelPadding":1.5,"labelFlush":true,"labelOverlap":false,"labelBound":false,"gridColor":"#e1e1e1","gridWidth":1,"title":null}}}},
{"data":{"name":"M"},"transform":[{"filter":"datum.r == 0"}],
 "mark":{"type":"point","shape":"square","filled":true,"size":26,"fill":"#f5b24a","stroke":"#cf8a2c","strokeWidth":0.6,"opacity":1},
 "encoding":{"x":{"field":"x","type":"quantitative","scale":{"domain":[-19,558],"nice":false,"zero":false},"axis":null},
  "y":{"datum":3899,"type":"quantitative","scale":{"domain":[0,4054],"nice":false,"zero":false},
   "axis":{"values":[0,200,400,600,800,1000,1200,1400,1600,1800,2000,2200,2400,2600,2800,3000,3200,3400,3600,3800],"format":"d","offset":-19,"ticks":false,"domain":false,"labelFontSize":4.5,"labelFont":"DejaVu Sans","labelColor":"#6870a0","labelPadding":1.5,"labelFlush":true,"labelOverlap":false,"labelBound":false,"gridColor":"#e1e1e1","gridWidth":1,"title":null}}}}
]
}
